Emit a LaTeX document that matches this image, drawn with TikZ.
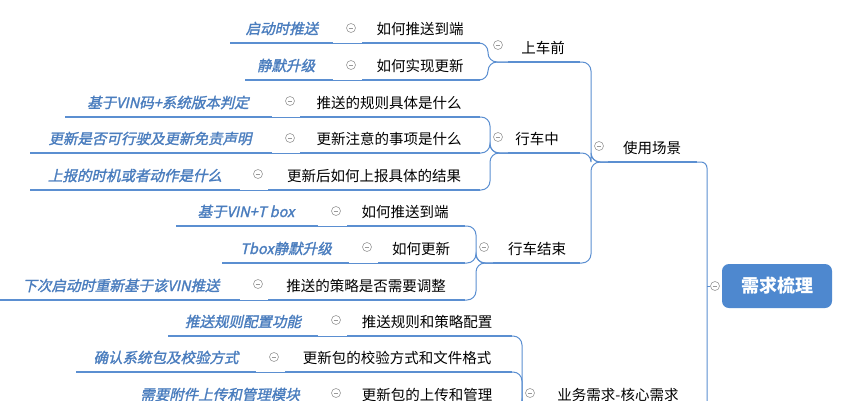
\documentclass[tikz,border=0pt]{standalone}
\usepackage{fontspec}
\setmainfont{Noto Sans CJK SC}
\newfontfamily\itfont[FakeSlant=0.22,FakeBold=1.5]{Noto Sans CJK SC}
\definecolor{lnc}{HTML}{5B8FD1}
\definecolor{itc}{HTML}{4A7DBE}
\definecolor{rootc}{HTML}{4E88CF}
\tikzset{
 ul/.style={draw=lnc,line width=2.6pt},
 conn/.style={draw=lnc,line width=1pt},
 tx/.style={font=\fontsize{14.5}{16}\selectfont,text=black,inner sep=0pt},
 it/.style={font=\itfont\fontsize{14.5}{16}\selectfont,text=itc,inner sep=0pt},
 cir/.style={circle,draw=gray!80,line width=0.6pt,minimum size=9pt,inner sep=0pt,
   path picture={\draw[gray!80,line width=0.6pt] ([xshift=-2.3pt]path picture bounding box.center)--([xshift=2.3pt]path picture bounding box.center);}},
}
\newcommand\topic[6]{% name x1 x2 y text style
 \draw[ul] (#2,#4) coordinate (#1-l) -- (#3,#4) coordinate (#1-r);
 \node[#6,anchor=base] (#1) at ({(#2+#3)/2+#5pt*0},#4-8) {\strut};}
\newcommand\tp[7]{% name x1 x2 y textcenter text style
 \draw[ul] (#2,#4) coordinate (#1-l) -- (#3,#4) coordinate (#1-r);
 \node[#7,anchor=base] (#1) at (#5,#4-9) {#6};}
\newcommand\cc[3]{\node[cir] (#1) at (#2,#3) {};}
\newcommand\gl[2]{\draw[conn] (#1-r) -- (#2-l);}
\newcommand\br[3]{\draw[conn,rounded corners=9pt] (#1-l) -- (#3,0 |- #1-l) |- (#2-r);}
\begin{document}
\begin{tikzpicture}[x=1pt,y=-1pt]
\useasboundingbox (0,0) rectangle (852,400);
\clip (0,0) rectangle (852,400);
\fill[white] (0,0) rectangle (852,400);
% root
\node[fill=rootc,rounded corners=7pt,minimum width=110pt,minimum height=44pt,text=white,
 font=\fontsize{18}{20}\selectfont\bfseries] (root) at (777,286) {需求梳理};
\cc{rootc}{715}{286}
% level 1
\tp{s}{608}{697}{162}{652}{使用场景}{tx}
\cc{sc}{599}{146}
\tp{b}{545}{697}{409}{618}{业务需求-核心需求}{tx}
\cc{bc}{530}{393}
\draw[conn,rounded corners=6pt] (s-r) -| (707,415);
\draw[conn] (rootc) -- (707,286);
% level 2 under 使用场景
\tp{a1}{508}{580}{62}{543}{上车前}{tx}
\cc{a1c}{498}{45}
\tp{a2}{508}{580}{153}{537}{行车中}{tx}
\cc{a2c}{498}{137}
\tp{a3}{493}{580}{263}{537}{行车结束}{tx}
\cc{a3c}{484}{247}
\br{s}{a1}{591}
\br{s}{a2}{591}
\br{s}{a3}{591}
% 上车前 children
\tp{c11}{362}{480}{43}{420}{如何推送到端}{tx}
\cc{c11c}{351}{28}
\tp{c12}{362}{480}{80}{420}{如何实现更新}{tx}
\cc{c12c}{351}{65}
\br{a1}{c11}{488}
\br{a1}{c12}{488}
\tp{g11}{230}{333}{43}{282}{启动时推送}{it}
\tp{g12}{245}{333}{80}{286}{静默升级}{it}
\gl{g11}{c11}\gl{g12}{c12}
% 行车中 children
\tp{c21}{300}{480}{117}{389}{推送的规则具体是什么}{tx}
\cc{c21c}{290}{101}
\tp{c22}{300}{480}{153}{389}{更新注意的事项是什么}{tx}
\cc{c22c}{290}{138}
\tp{c23}{268}{480}{190}{374}{更新后如何上报具体的结果}{tx}
\cc{c23c}{258}{174}
\br{a2}{c21}{490}
\br{a2}{c22}{490}
\br{a2}{c23}{490}
\tp{g21}{65}{272}{117}{168}{基于VIN码+系统版本判定}{it}
\tp{g22}{30}{272}{153}{150}{更新是否可行驶及更新免责声明}{it}
\tp{g23}{30}{240}{190}{135}{上报的时机或者动作是什么}{it}
\gl{g21}{c21}\gl{g22}{c22}\gl{g23}{c23}
% 行车结束 children
\tp{c31}{347}{465}{226}{405}{如何推送到端}{tx}
\cc{c31c}{336}{211}
\tp{c32}{378}{465}{263}{421}{如何更新}{tx}
\cc{c32c}{367}{247}
\tp{c33}{268}{465}{300}{366}{推送的策略是否需要调整}{tx}
\cc{c33c}{258}{284}
\br{a3}{c31}{476}
\br{a3}{c32}{476}
\br{a3}{c33}{476}
\tp{g31}{176}{318}{226}{246}{基于VIN+T box}{it}
\tp{g32}{222}{349}{263}{286}{Tbox静默升级}{it}
\tp{g33}{0}{240}{300}{121}{下次启动时重新基于该VIN推送}{it}
\gl{g31}{c31}\gl{g32}{c32}\gl{g33}{c33}
% 业务需求 children
\tp{c41}{347}{512}{336}{427}{推送规则和策略配置}{tx}
\cc{c41c}{336}{320}
\tp{c42}{285}{512}{372}{397}{更新包的校验方式和文件格式}{tx}
\cc{c42c}{274}{357}
\tp{c43}{347}{512}{409}{427}{更新包的上传和管理}{tx}
\cc{c43c}{336}{393}
\br{b}{c41}{522}
\br{b}{c42}{522}
\br{b}{c43}{522}
\tp{g41}{168}{318}{336}{243}{推送规则配置功能}{it}
\tp{g42}{76}{256}{372}{166}{确认系统包及校验方式}{it}
\tp{g43}{125}{318}{409}{220}{需要附件上传和管理模块}{it}
\gl{g41}{c41}\gl{g42}{c42}\gl{g43}{c43}
\end{tikzpicture}
\end{document}
